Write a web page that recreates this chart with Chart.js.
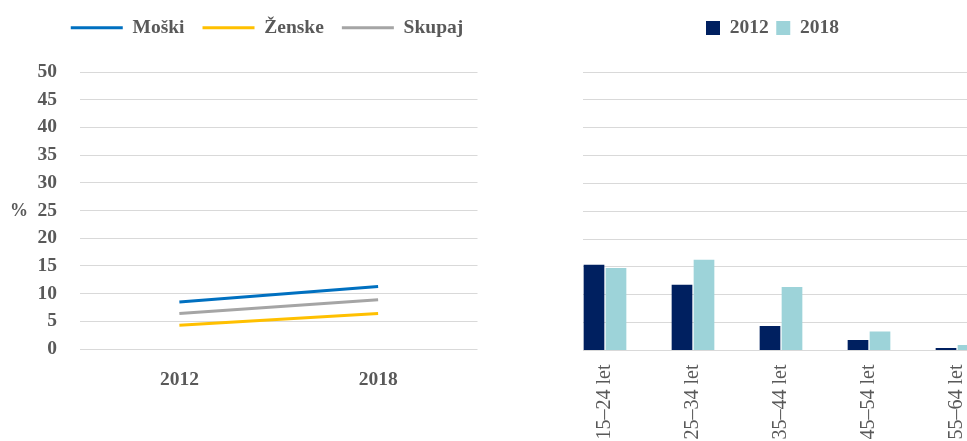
<!DOCTYPE html>
<html>
<head>
<meta charset="utf-8">
<script src="https://cdn.jsdelivr.net/npm/chart.js@4/dist/chart.umd.min.js"></script>
<style>
  html, body { margin: 0; padding: 0; background: #ffffff; width: 967px; height: 441px; overflow: hidden; }
  #leftWrap { position: absolute; left: 0; top: 0; width: 534px; height: 441px; }
  #rightWrap { position: absolute; left: 583px; top: 0; width: 384px; height: 441px; overflow: hidden; }
  #rightCanvas { position: absolute; left: -39px; top: 0; }
  #pct { position: absolute; left: 10px; top: 200px; font: bold 18px "Liberation Serif", serif; color: #595959; }
</style>
</head>
<body>
<div id="leftWrap"><canvas id="leftCanvas" width="534" height="441"></canvas></div>
<div id="pct">%</div>
<div id="rightWrap"><canvas id="rightCanvas" width="457" height="441"></canvas></div>
<script>
// ---- data ----
const years = ['2012', '2018'];
const moski = [8.5, 11.3];
const zenske = [4.3, 6.4];
const skupaj = [6.4, 8.9];

const ageGroups = ['15–24 let', '25–34 let', '35–44 let', '45–54 let', '55–64 let'];
const bars2012 = [15.4, 11.8, 4.4, 1.9, 0.45];
const bars2018 = [14.8, 16.3, 11.4, 3.4, 1.0];

const yMin = 0, yMax = 50, yStep = 5;

// ---- styling ----
const FONT = '"Liberation Serif", serif';
const TXT = '#595959';
const GRID = '#d9d9d9';

function spacer(size, horizontal) {
  return {
    display: true,
    grid: { display: false, drawTicks: false },
    border: { display: false },
    ticks: { display: false },
    afterFit: s => { if (horizontal) s.height = size; else s.width = size; }
  };
}

new Chart(document.getElementById('leftCanvas'), {
  type: 'line',
  data: {
    labels: years,
    datasets: [
      { label: 'Moški', data: moski, borderColor: '#0070C0', backgroundColor: '#0070C0', borderWidth: 3, pointRadius: 0, tension: 0 },
      { label: 'Ženske', data: zenske, borderColor: '#FFC000', backgroundColor: '#FFC000', borderWidth: 3, pointRadius: 0, tension: 0 },
      { label: 'Skupaj', data: skupaj, borderColor: '#A5A5A5', backgroundColor: '#A5A5A5', borderWidth: 3, pointRadius: 0, tension: 0 }
    ]
  },
  options: {
    responsive: false,
    animation: false,
    devicePixelRatio: 1,
    layout: { padding: { top: 0, left: 0, right: 0, bottom: 0 } },
    plugins: {
      tooltip: { enabled: false },
      legend: {
        position: 'top',
        labels: {
          usePointStyle: true,
          pointStyle: 'line',
          pointStyleWidth: 52,
          padding: 18,
          color: TXT,
          font: { family: FONT, size: 19.5, weight: 'bold' }
        }
      }
    },
    scales: {
      x: {
        type: 'category',
        position: 'bottom',
        offset: true,
        grid: { display: false, drawTicks: false },
        border: { display: false },
        ticks: { color: TXT, padding: 19, font: { family: FONT, size: 19.5, weight: 'bold' } },
        afterFit: s => { s.height = 92; }
      },
      xTop: Object.assign({ type: 'category', position: 'top' }, spacer(24.5, true)),
      y: {
        type: 'linear',
        position: 'left',
        min: yMin, max: yMax,
        grid: { color: GRID, lineWidth: 1, drawTicks: false },
        border: { display: false },
        ticks: { stepSize: yStep, color: TXT, padding: 23, font: { family: FONT, size: 19.5, weight: 'bold' } },
        afterFit: s => { s.width = 80; }
      },
      yRight: Object.assign({ type: 'linear', position: 'right' }, spacer(56.5, false))
    }
  }
});

new Chart(document.getElementById('rightCanvas'), {
  type: 'bar',
  data: {
    labels: ageGroups,
    datasets: [
      { label: '2012', data: bars2012, backgroundColor: '#002060', borderWidth: 0 },
      { label: '2018', data: bars2018, backgroundColor: '#9DD3D9', borderWidth: 0 }
    ]
  },
  options: {
    responsive: false,
    animation: false,
    devicePixelRatio: 1,
    layout: { padding: { top: 10.75, left: 0, right: 0, bottom: 0 } },
    datasets: { bar: { categoryPercentage: 0.5, barPercentage: 0.94 } },
    plugins: {
      tooltip: { enabled: false },
      legend: {
        position: 'top',
        labels: {
          boxWidth: 14,
          boxHeight: 14,
          padding: 7.5,
          color: TXT,
          font: { family: FONT, size: 19.5, weight: 'bold' }
        }
      }
    },
    scales: {
      x: {
        type: 'category',
        position: 'bottom',
        grid: { display: false, drawTicks: false },
        border: { display: false },
        ticks: {
          color: TXT, padding: 14, autoSkip: false, minRotation: 90, maxRotation: 90,
          font: { family: FONT, size: 20, weight: 'normal' }
        },
        afterFit: s => { s.height = 90.5; }
      },
      xTop: Object.assign({ type: 'category', position: 'top' }, spacer(24.25, true)),
      y: {
        type: 'linear',
        position: 'left',
        min: yMin, max: yMax,
        grid: { color: GRID, lineWidth: 1, drawTicks: false },
        border: { display: false },
        ticks: { stepSize: yStep, display: false },
        afterFit: s => { s.width = 17; }
      }
    }
  }
});
</script>
</body>
</html>
